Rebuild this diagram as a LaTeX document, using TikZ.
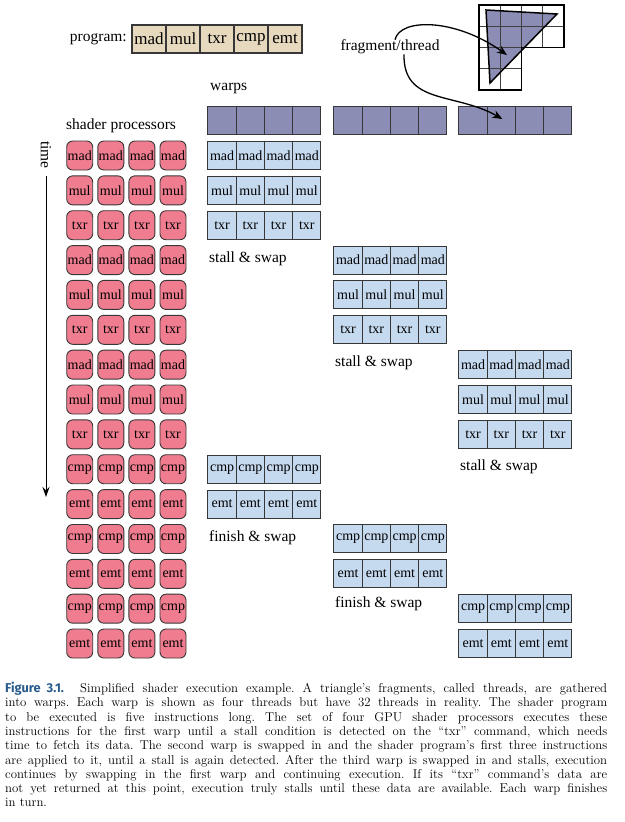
\documentclass[tikz,border=0pt]{standalone}
\usepackage{fontspec}
\newfontfamily\figfont{Liberation Serif}
\newfontfamily\capsans{Fira Sans}
\usetikzlibrary{arrows.meta}
\definecolor{progtan}{RGB}{231,217,190}
\definecolor{warppurple}{RGB}{140,141,180}
\definecolor{threadblue}{RGB}{197,217,239}
\definecolor{procred}{RGB}{240,125,143}
\definecolor{capblue}{RGB}{42,92,140}
\definecolor{edgegray}{RGB}{55,55,55}

\begin{document}
\begin{tikzpicture}[
  x=1pt, y=-1pt,
  lbl/.style={font=\figfont\fontsize{15.5}{18}\selectfont, inner sep=0pt},
  instr/.style={draw=edgegray, line width=1.2pt, fill=progtan, minimum width=34pt, minimum height=28pt, inner sep=0pt, font=\figfont\fontsize{17}{20}\selectfont},
  proc/.style={draw=edgegray, line width=0.9pt, fill=procred, rounded corners=6pt, minimum width=26pt, minimum height=29pt, inner sep=0pt, font=\figfont\fontsize{14}{16}\selectfont},
  thr/.style={draw=edgegray, line width=1pt, fill=threadblue, minimum width=28.25pt, minimum height=28pt, inner sep=0pt, font=\figfont\fontsize{14}{16}\selectfont},
  warp/.style={draw=edgegray, line width=1pt, fill=warppurple, minimum width=28.25pt, minimum height=28pt, inner sep=0pt},
  gridcell/.style={draw=black!75, line width=1pt},
  fragarrow/.style={-{Stealth[length=10pt, width=8pt]}, line width=1.3pt},
  timearrow/.style={-{Stealth[length=10pt, width=7pt]}, line width=1pt}
]
\useasboundingbox (0,0) rectangle (624,822);

\node[lbl, anchor=east] (prog) at (127,39) {program:};
\foreach \ins [count=\k] in {mad,mul,txr,cmp,emt}
  \node[instr] (i\k) at ({149+34*(\k-1)},39) {\ins};

\fill[warppurple] (486,10) -- (557,14) -- (490,83) -- cycle;
\foreach \c in {0,...,3}
  \foreach \r in {0,1}
    \draw[gridcell] ({479+21.3*\c},{5+21.3*\r}) rectangle +(21.3,21.3);
\foreach \c in {0,1}
  \foreach \r in {2,3}
    \draw[gridcell] ({479+21.3*\c},{5+21.3*\r}) rectangle +(21.3,21.3);
\draw[line width=1.5pt] (479,5) -| (564.2,47.6) -| (521.6,90.2) -| cycle;
\draw[line width=1.5pt, line join=miter] (486,10) -- (557,14) -- (490,83) -- cycle;
\coordinate (frag) at (507,55);

\node[lbl] (fragthread) at (390,47) {fragment/thread};
\node[lbl, anchor=west] (warps) at (210,88) {warps};
\node[lbl, anchor=west] (shproc) at (66,126) {shader processors};

\foreach \w/\x in {1/208,2/334,3/459}
  \foreach \k in {1,...,4}
    \node[warp] (w\w-\k) at ({\x+14.1+28.25*(\k-1)},120) {};

\draw[fragarrow] ([xshift=5pt]fragthread.north) .. controls (400,18) and (455,18) .. (frag);
\draw[fragarrow] ([xshift=14pt]fragthread.south) .. controls (403,105) and (455,92) .. ([xshift=1pt,yshift=1pt]w3-2.center);

\node[lbl, rotate=-90] (time) at (46,155) {time};
\coordinate (tend) at (46,497);
\draw[timearrow] (time.east) ++(0,7) -- (tend);

\foreach \ins [count=\i] in {mad,mul,txr,mad,mul,txr,mad,mul,txr,cmp,emt,cmp,emt,cmp,emt}
  \foreach \k in {1,...,4}
    \node[proc] (p\i-\k) at ({79.7+31.1*(\k-1)},{155.5+34.86*(\i-1)}) {\ins};

\foreach \w/\x/\r/\ins in {1/208/1/mad,1/208/2/mul,1/208/3/txr,1/208/10/cmp,1/208/11/emt,
                           2/334/4/mad,2/334/5/mul,2/334/6/txr,2/334/12/cmp,2/334/13/emt,
                           3/459/7/mad,3/459/8/mul,3/459/9/txr,3/459/14/cmp,3/459/15/emt}
  \foreach \k in {1,...,4}
    \node[thr] (t\w-\r-\k) at ({\x+14.1+28.25*(\k-1)},{155.5+34.86*(\r-1)}) {\ins};

\node[lbl, anchor=west] (stall1) at (209,259) {stall \& swap};
\node[lbl, anchor=west] (stall2) at (335,363) {stall \& swap};
\node[lbl, anchor=west] (stall3) at (460,467) {stall \& swap};
\node[lbl, anchor=west] (finish1) at (209,538) {finish \& swap};
\node[lbl, anchor=west] (finish2) at (335,604) {finish \& swap};

\node[anchor=north west, inner sep=0pt, text width=602pt, align=justify,
      font=\fontsize{12.8}{14.3}\selectfont\frenchspacing] (cap) at (5,682)
  {{\capsans\bfseries\color{capblue}Figure 3.1.}\ \ Simplified shader execution example. A triangle’s fragments, called threads, are gathered\linebreak
  into warps. Each warp is shown as four threads but have 32 threads in reality. The shader program\linebreak
  to be executed is five instructions long. The set of four GPU shader processors executes these\linebreak
  instructions for the first warp until a stall condition is detected on the “txr” command, which needs\linebreak
  time to fetch its data. The second warp is swapped in and the shader program’s first three instructions\linebreak
  are applied to it, until a stall is again detected. After the third warp is swapped in and stalls, execution\linebreak
  continues by swapping in the first warp and continuing execution. If its “txr” command’s data are\linebreak
  not yet returned at this point, execution truly stalls until these data are available. Each warp finishes\linebreak
  in turn.};
\end{tikzpicture}
\end{document}
